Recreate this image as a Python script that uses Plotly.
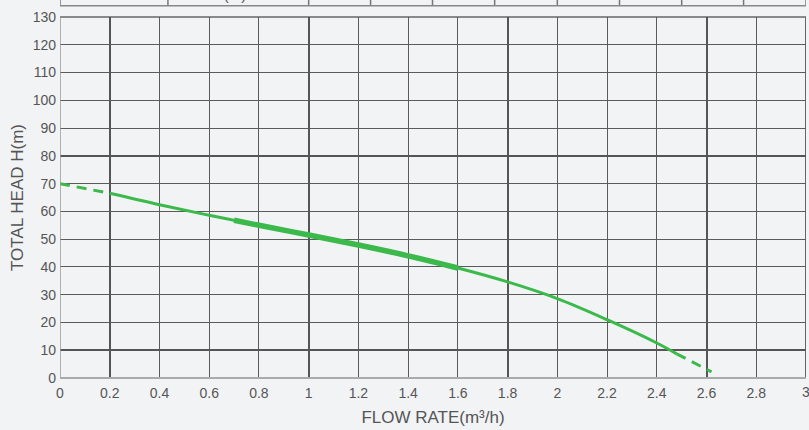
import plotly.graph_objects as go

# Pump curve data (flow m3/h, head m)
flow_dash_start = [0.0, 0.2]
head_dash_start = [70.0, 66.5]
flow_main = [0.2, 0.4, 0.6, 0.8, 1.0, 1.2, 1.4, 1.6, 1.8, 2.0, 2.2, 2.4, 2.48]
head_main = [66.5, 62.4, 58.6, 55.0, 51.5, 47.9, 44.0, 39.6, 34.6, 28.6, 21.0, 12.6, 8.7]
flow_band = [0.7, 0.8, 1.0, 1.2, 1.4, 1.6]
head_band = [56.8, 55.0, 51.5, 47.9, 44.0, 39.6]
flow_dash_end = [2.48, 2.62]
head_dash_end = [8.7, 2.2]

x_ticks = [0, 0.2, 0.4, 0.6, 0.8, 1, 1.2, 1.4, 1.6, 1.8, 2, 2.2, 2.4, 2.6, 2.8, 3]
y_ticks = list(range(0, 131, 10))
table_cols = [0, 0.434, 1.0, 1.249, 1.498, 1.748, 2.0, 2.25, 2.5, 2.749, 3.0]

GREEN = "#3cb94b"
GRID = "#5a5a5a"
BG = "#f2f3f5"
TXT = "#555555"

fig = go.Figure()
fig.add_trace(go.Scatter(x=[0], y=[0], xaxis="x2", yaxis="y2", mode="markers",
                         marker=dict(opacity=0), showlegend=False, hoverinfo="skip"))
fig.add_trace(go.Scatter(x=flow_dash_start, y=head_dash_start, mode="lines",
                         line=dict(color=GREEN, width=3, dash="10px,7px"), showlegend=False))
fig.add_trace(go.Scatter(x=flow_main, y=head_main, mode="lines", line_shape="spline",
                         line=dict(color=GREEN, width=3), showlegend=False))
fig.add_trace(go.Scatter(x=flow_band, y=head_band, mode="lines", line_shape="spline",
                         line=dict(color=GREEN, width=5.5), showlegend=False))
fig.add_trace(go.Scatter(x=flow_dash_end, y=head_dash_end, mode="lines",
                         line=dict(color=GREEN, width=3, dash="10px,7px"), showlegend=False))

# top table (cut off) lines
shapes = []
for c in table_cols:
    shapes.append(dict(type="line", xref="x", yref="paper", x0=c, x1=c, y0=1.031, y1=1.2,
                       line=dict(color="#777777", width=1.5)))
shapes.append(dict(type="line", xref="x", yref="paper", x0=0, x1=3, y0=1.031, y1=1.031,
                   line=dict(color="#888888", width=1.5)))
# plot frame
shapes.append(dict(type="line", xref="x", yref="paper", x0=0, x1=0, y0=0, y1=1,
                   line=dict(color="#999999", width=1.5), layer="above"))
shapes.append(dict(type="line", xref="x", yref="paper", x0=3, x1=3, y0=0, y1=1,
                   line=dict(color="#666666", width=2), layer="below"))
shapes.append(dict(type="line", xref="x", yref="paper", x0=0, x1=3, y0=1, y1=1,
                   line=dict(color="#666666", width=1.5), layer="below"))
shapes.append(dict(type="line", xref="x", yref="paper", x0=0, x1=3, y0=0, y1=0,
                   line=dict(color="#aaaaaa", width=2), layer="above"))

fig.update_layout(
    width=809, height=430,
    margin=dict(l=60, r=3, t=17, b=52),
    paper_bgcolor=BG, plot_bgcolor=BG,
    font=dict(family="Liberation Sans, Arial, sans-serif", color=TXT, size=14),
    shapes=shapes,
    xaxis=dict(range=[0, 3], tickvals=x_ticks, ticktext=[str(v) for v in x_ticks],
               showgrid=True, gridcolor=GRID, gridwidth=1.4, zeroline=False, automargin=False,
               showline=False, ticks="", tickfont=dict(size=14, color=TXT), ticklabelstandoff=5,
               title=dict(text="FLOW RATE(m³/h)", font=dict(size=17, color=TXT), standoff=11)),
    yaxis=dict(range=[0, 130], tickvals=y_ticks, showgrid=True, gridcolor=GRID, gridwidth=1.4,
               zeroline=False, showline=False, ticks="", ticklabelstandoff=3, automargin=False,
               tickfont=dict(size=14, color=TXT),
               title=dict(text="TOTAL HEAD H(m)", font=dict(size=17, color=TXT), standoff=4)),
    xaxis2=dict(range=[0, 3], overlaying="x", tick0=0.2, dtick=0.8, showgrid=True,
                gridcolor="#555555", gridwidth=2, showticklabels=False, zeroline=False,
                ticks="", automargin=False),
    yaxis2=dict(range=[0, 130], overlaying="y", tick0=10, dtick=70, showgrid=True,
                gridcolor="#555555", gridwidth=2, showticklabels=False, zeroline=False,
                ticks="", automargin=False),
    annotations=[
        dict(text="H(m)", xref="x", yref="paper", x=0.68, y=1.031, yanchor="bottom",
             yshift=1, showarrow=False, font=dict(size=15, color=TXT)),
        dict(text="3", xref="x", yref="paper", x=3, y=0, yanchor="top", xanchor="center",
             yshift=-4, showarrow=False, font=dict(size=14, color=TXT)),
    ],
)

fig.write_html("out.html", config={"displayModeBar": False},
               post_script="document.body.style.margin='0';document.body.style.background='#f2f3f5';")
